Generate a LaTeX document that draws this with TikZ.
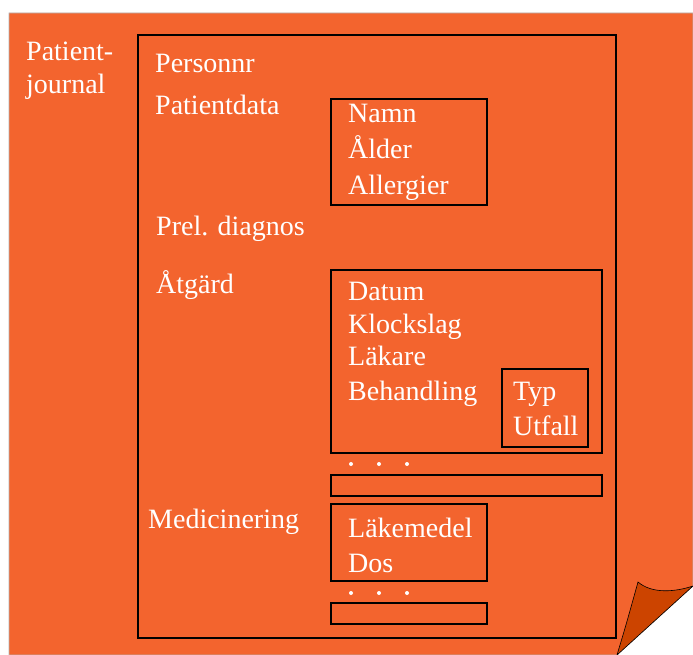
\documentclass[tikz,border=0pt]{standalone}
\usepackage{fontspec}
\setmainfont{Liberation Serif}
\definecolor{sheet}{RGB}{243,100,46}
\definecolor{flap}{RGB}{204,68,0}
\tikzset{
  lbl/.style={anchor=base west, inner sep=0pt, text=white,
    font=\fontsize{28}{34}\selectfont},
  box/.style={draw=black, line width=2pt},
  dot/.style={fill=white, circle, inner sep=0pt, minimum size=4pt}
}
\begin{document}
\begin{tikzpicture}[x=1pt, y=-1pt]
\useasboundingbox (0,0) rectangle (693,655);
% the sheet with its curled corner
\fill[sheet, draw=gray!60, line width=0.6pt] (9,13) -- (693,13) -- (693,586) -- (617,655) -- (9,655) -- cycle;
\fill[flap, draw=black, line width=0.6pt] (638,582) .. controls (652,594) and (675,592) .. (693,586)
  -- (617,655) .. controls (626,625) .. (638,582) -- cycle;

% frames
\draw[box] (138,35) rectangle (616,638);
\draw[box] (331,99) rectangle (487,205);
\draw[box] (331,270) rectangle (602,453);
\draw[box] (502,369) rectangle (588,447);
\draw[box] (331,475) rectangle (602,496);
\draw[box] (331,504) rectangle (487,581);
\draw[box] (331,603) rectangle (487,624);

% labels
\node (journal) [lbl, align=left] at (26,61) {Patient-};
\node (journal2) [lbl] at (26,94) {journal};
\node (pnr) [lbl] at (155,73) {Personnr};
\node (pdata) [lbl] at (155,115) {Patientdata};
\node (namn) [lbl] at (348,123) {Namn};
\node (alder) [lbl] at (348,159) {Ålder};
\node (allergi) [lbl] at (348,195) {Allergier};
\node (diag) [lbl] at (156,235) {Prel. diagnos};
\node (atgard) [lbl] at (156,293) {Åtgärd};
\node (datum) [lbl] at (348,300) {Datum};
\node (klock) [lbl] at (348,333) {Klockslag};
\node (lakare) [lbl] at (348,365) {Läkare};
\node (behandl) [lbl] at (348,400) {Behandling};
\node (typ) [lbl] at (513,400) {Typ};
\node (utfall) [lbl] at (513,435) {Utfall};
\node (medic) [lbl] at (148,528) {Medicinering};
\node (lakemed) [lbl] at (348,537) {Läkemedel};
\node (dos) [lbl] at (348,572) {Dos};

% ellipsis dots
\foreach \x in {351,379,407} {
  \node (d1\x) [dot] at (\x,464) {};
  \node (d2\x) [dot] at (\x,593) {};
}
\end{tikzpicture}
\end{document}
